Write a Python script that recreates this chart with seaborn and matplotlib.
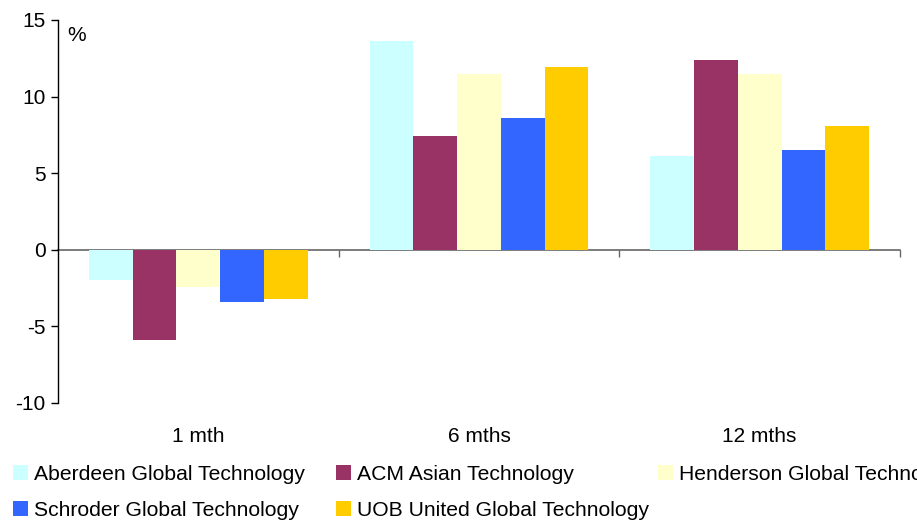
import pandas as pd
import seaborn as sns
import matplotlib.pyplot as plt

periods = ['1 mth', '6 mths', '12 mths']
funds = ['Aberdeen Global Technology', 'ACM Asian Technology',
         'Henderson Global Technology', 'Schroder Global Technology',
         'UOB United Global Technology']
aberdeen = [-2.0, 13.6, 6.1]
acm = [-5.9, 7.4, 12.4]
henderson = [-2.4, 11.5, 11.5]
schroder = [-3.4, 8.6, 6.5]
uob = [-3.2, 11.9, 8.1]
colors = ['#CCFFFF', '#993366', '#FFFFCC', '#3366FF', '#FFCC00']

rows = []
for fund, vals in zip(funds, [aberdeen, acm, henderson, schroder, uob]):
    for p, v in zip(periods, vals):
        rows.append({'period': p, 'fund': fund, 'value': v})
df = pd.DataFrame(rows)

sns.set_theme(style='white')
plt.rcParams['font.family'] = ['Liberation Sans', 'DejaVu Sans']
plt.rcParams['axes.unicode_minus'] = False
plt.rcParams['text.color'] = 'black'
plt.rcParams['xtick.color'] = 'black'
plt.rcParams['ytick.color'] = 'black'

fig = plt.figure(figsize=(9.17, 5.22), dpi=100)
ax = fig.add_axes([58 / 917, 1 - 403 / 522, 842 / 917, 383 / 522])

sns.barplot(data=df, x='period', y='value', hue='fund', order=periods,
            hue_order=funds, palette=colors, saturation=1, width=0.78,
            linewidth=0, ax=ax)

ax.set_ylim(-10, 15)
ax.set_xlim(-0.5, 2.5)
ax.set_yticks([-10, -5, 0, 5, 10, 15])
ax.set_xlabel('')
ax.set_ylabel('')
for s in ['top', 'right', 'bottom']:
    ax.spines[s].set_visible(False)
ax.spines['left'].set_color('black')
ax.spines['left'].set_linewidth(1)
ax.tick_params(axis='y', direction='out', length=5, width=1, color='black',
               labelsize=15, pad=4, left=True, labelcolor='black')
ax.tick_params(axis='x', length=0, labelsize=15, pad=17.5, labelcolor='black')

# zero line with group separators
sec = ax.secondary_xaxis(0.4)
sec.set_xticks([0.5, 1.5, 2.5])
sec.set_xticklabels([])
sec.spines['bottom'].set_color('#666666')
sec.spines['bottom'].set_linewidth(1.2)
sec.tick_params(axis='x', direction='out', length=5, width=1, color='#666666')

ax.text(0.011, 0.984, '%', transform=ax.transAxes, fontsize=15, va='top',
        color='black')

handles, labels = ax.get_legend_handles_labels()
ax.get_legend().remove()

# one legend per column, laid out row-wise like the original
columns = [([0, 3], 13), ([1, 4], 336), ([2], 658)]
for idx, xpx in columns:
    fig.legend([handles[i] for i in idx], [labels[i] for i in idx],
               ncol=1, loc='upper left',
               bbox_to_anchor=(xpx / 917, 1 - 465 / 522),
               bbox_transform=fig.transFigure, frameon=False, fontsize=15.2,
               handlelength=0.7, handleheight=0.7, handletextpad=0.3,
               labelspacing=0.8, borderaxespad=0, borderpad=0)

fig.savefig('out.png', dpi=100)
